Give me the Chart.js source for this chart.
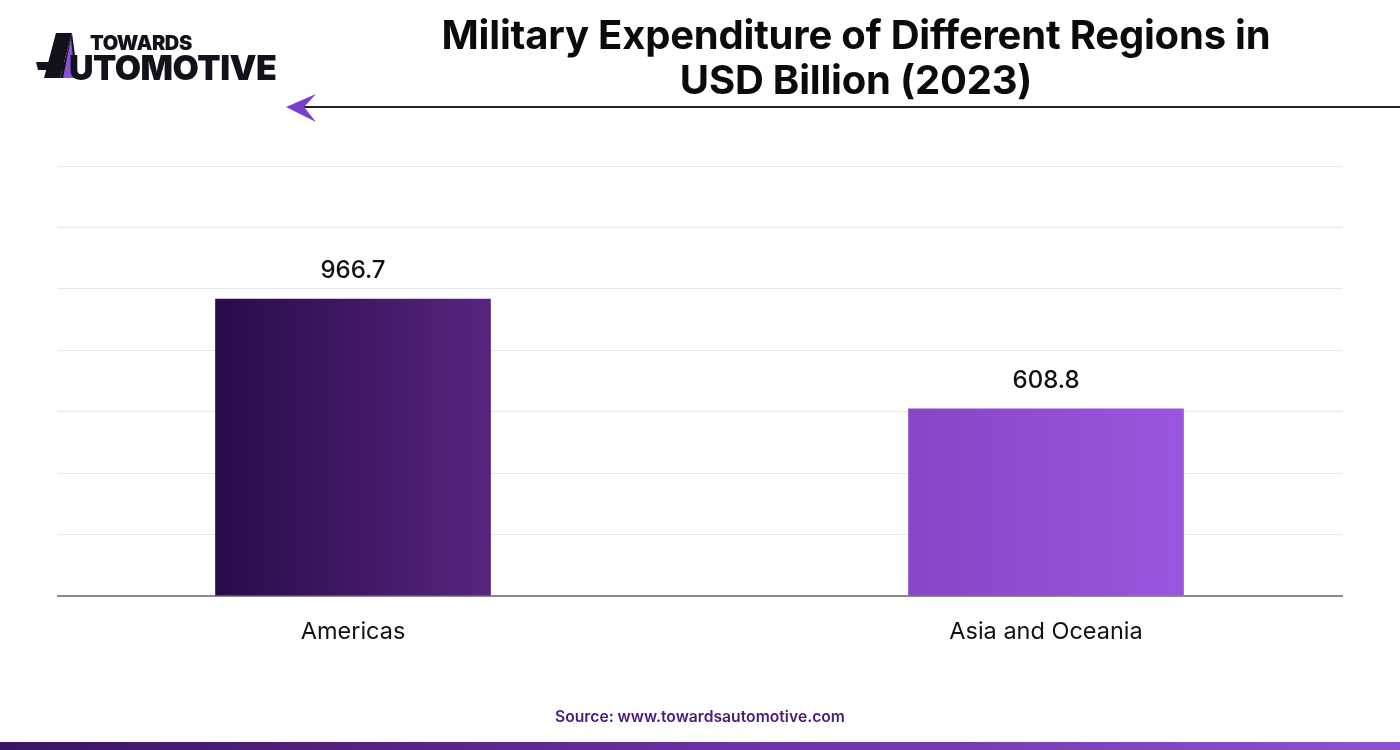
<!DOCTYPE html>
<html>
<head>
<meta charset="utf-8">
<script src="https://cdn.jsdelivr.net/npm/chart.js@4"></script>
<style>
    body { margin: 0; background: #fff; font-family: Inter, "Noto Sans", sans-serif; }
    #page { position: relative; width: 1400px; height: 750px; overflow: hidden; background: #fff; }
    #chartBox { position: absolute; left: 0; top: 0; width: 1400px; height: 750px; }
    #title { position: absolute; left: 400px; width: 912px; top: 12px; text-align: center;
        font-size: 40px; font-weight: 700; line-height: 45px; color: #0b0b0b; letter-spacing: -0.2px; }
    #logo { position: absolute; left: 36px; top: 30px; }
    #logo .t1 { position: absolute; left: 54px; top: 1px; font-size: 20px; font-weight: 900; color: #15111c; letter-spacing: -0.4px; }
    #logo .t2 { position: absolute; left: 33px; top: 17px; font-size: 34px; font-weight: 900; color: #15111c; letter-spacing: -0.5px; }
    #rule { position: absolute; left: 302px; top: 106px; width: 1098px; height: 1.5px; background: #222; }
    #source { position: absolute; left: 0; width: 1400px; top: 707px; text-align: center;
        font-size: 15.7px; font-weight: 600; color: #4a1a7e; }
    #band { position: absolute; left: 0; top: 742px; width: 1400px; height: 8px;
        background: linear-gradient(to right, #3a1462, #6a2fa0 50%, #9052d0); }
</style>
</head>
<body>
<div id="page">
    <div id="chartBox"><canvas id="chart" width="1400" height="750"></canvas></div>
    <div id="logo">
        <svg width="50" height="52" style="position:absolute;left:0;top:0">
            <polygon points="20,3 36,3 24,48 8,48" fill="#15111c"/>
            <polygon points="0,32 30,32 28,40 2,40" fill="#15111c"/>
            <polygon points="36,3 42,48 24,48" fill="#15111c"/>
            <polygon points="35,8 27,48 39,48" fill="#8b4fd6"/>
        </svg>
        <div class="t1">TOWARDS</div>
        <div class="t2">UTOMOTIVE</div>
    </div>
    <div id="title">Military Expenditure of Different Regions in<br>USD Billion (2023)</div>
    <div id="rule"></div>
    <svg width="34" height="32" style="position:absolute;left:284px;top:92px">
        <polygon points="2,15 32,2 20,15 32,30" fill="#7b3fd0"/>
    </svg>
    <div id="source">Source: www.towardsautomotive.com</div>
    <div id="band"></div>
</div>

<script>
// Dados do gráfico
const regions = ['Americas', 'Asia and Oceania'];
const spending = [966.7, 608.8];
const barColorsLeft = ['#280b49', '#8845c6'];
const barColorsRight = ['#58247f', '#9c55df'];
const yMax = 1400;
const yStep = 200;
const barWidth = 275;

// Gradiente horizontal por barra
function barGradient(ctx) {
    const chart = ctx.chart;
    const xScale = chart.scales && chart.scales.x;
    if (!chart.chartArea || !xScale) return barColorsLeft[ctx.dataIndex];
    const cx = xScale.getPixelForValue(ctx.dataIndex);
    if (!Number.isFinite(cx)) return barColorsLeft[ctx.dataIndex];
    const g = chart.ctx.createLinearGradient(cx - barWidth / 2, 0, cx + barWidth / 2, 0);
    g.addColorStop(0, barColorsLeft[ctx.dataIndex]);
    g.addColorStop(1, barColorsRight[ctx.dataIndex]);
    return g;
}

// Rótulos de valor acima das barras
const valueLabels = {
    id: 'valueLabels',
    afterDatasetsDraw(chart) {
        const c = chart.ctx;
        const meta = chart.getDatasetMeta(0);
        c.save();
        c.font = '500 24px Inter, sans-serif';
        c.fillStyle = '#111';
        c.textAlign = 'center';
        c.textBaseline = 'bottom';
        meta.data.forEach((bar, i) => {
            c.fillText(spending[i].toFixed(1), bar.x, bar.y - 16);
        });
        c.restore();
    }
};

const points = spending.map((v, i) => ({ x: i, y: v }));

new Chart(document.getElementById('chart'), {
    type: 'bar',
    data: {
        datasets: [{
            data: points,
            backgroundColor: barGradient,
            borderWidth: 0,
            barThickness: barWidth
        }]
    },
    options: {
        responsive: false,
        animation: false,
        layout: { padding: { left: 58, right: 58, top: 166, bottom: 82 } },
        plugins: { legend: { display: false }, tooltip: { enabled: false } },
        scales: {
            x: {
                type: 'linear',
                offset: false,
                min: -0.4257,
                max: 1.4271,
                afterBuildTicks: (scale) => { scale.ticks = regions.map((r, i) => ({ value: i })); },
                ticks: {
                    callback: (v) => regions[v],
                    font: { size: 23.5, family: 'Inter, sans-serif' },
                    color: '#111',
                    padding: 22,
                    maxRotation: 0
                },
                grid: { display: false, drawTicks: false, offset: false },
                border: { display: true, color: '#8a8a8a', width: 2 }
            },
            y: {
                min: 0,
                max: yMax,
                ticks: { display: false, stepSize: yStep },
                grid: { color: '#e6e6e6', lineWidth: 1, drawTicks: false },
                border: { display: false }
            }
        }
    },
    plugins: [valueLabels]
});
</script>
</body>
</html>
